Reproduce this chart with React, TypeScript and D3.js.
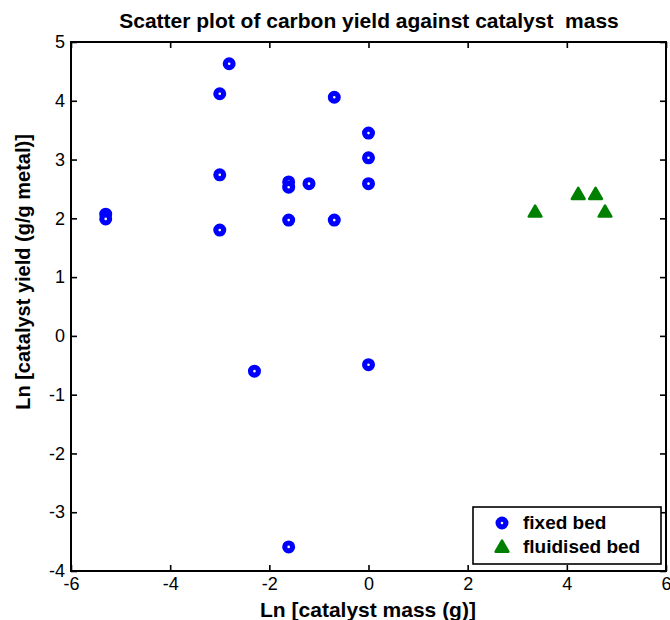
import React, { useRef, useEffect } from 'react';
import * as d3 from 'd3';

// fixed bed points (ln catalyst mass, ln yield)
const fixedX = [-2.81, -3.0, -0.69, 0, 0, 0, -3.0, -1.61, -1.61, -1.2, -5.3, -5.3, -1.61, -0.69, -3.0, -2.3, 0, -1.61];
const fixedY = [4.63, 4.12, 4.06, 3.45, 3.03, 2.59, 2.74, 2.62, 2.53, 2.59, 2.07, 1.99, 1.97, 1.97, 1.8, -0.6, -0.49, -3.59];

// fluidised bed points
const fluidX = [3.36, 4.23, 4.58, 4.77];
const fluidY = [2.11, 2.41, 2.41, 2.11];

const xTicks = [-6, -4, -2, 0, 2, 4, 6];
const yTicks = [-4, -3, -2, -1, 0, 1, 2, 3, 4, 5];

const legendLabels = ['fixed bed', 'fluidised bed'];

export default function App() {
    const svgRef = useRef(null);
    const width = 670;
    const height = 620;
    const margin = { top: 42, right: 4, bottom: 49, left: 71 };

    useEffect(() => {
        const svg = d3.select(svgRef.current);
        svg.selectAll('*').remove();

        const font = '"Liberation Sans", Arial, sans-serif';
        const x = d3.scaleLinear().domain([-6, 6]).range([margin.left, width - margin.right]);
        const y = d3.scaleLinear().domain([-4, 5]).range([height - margin.bottom, margin.top]);

        svg.append('rect').attr('width', width).attr('height', height).attr('fill', '#fff');

        // axes, ticks inward on all four sides
        const styleAxis = (g, showLabels) => {
            g.select('.domain').remove();
            g.selectAll('line').attr('stroke', '#000').attr('stroke-width', 1.6);
            g.selectAll('text')
                .attr('font-family', font)
                .attr('font-size', 18)
                .attr('fill', '#000')
                .style('display', showLabels ? null : 'none');
        };

        const plain = d => String(d); // hyphen minus like the original

        svg.append('g')
            .attr('transform', `translate(0,${y(-4)})`)
            .call(d3.axisBottom(x).tickValues(xTicks).tickSize(-6).tickPadding(6).tickFormat(plain))
            .call(g => styleAxis(g, true))
            .call(g => g.selectAll('text').filter(d => d === 6).attr('text-anchor', 'end').attr('dx', 5));
        svg.append('g')
            .attr('transform', `translate(0,${y(5)})`)
            .call(d3.axisTop(x).tickValues(xTicks).tickSize(-6))
            .call(g => styleAxis(g, false));
        svg.append('g')
            .attr('transform', `translate(${x(-6)},0)`)
            .call(d3.axisLeft(y).tickValues(yTicks).tickSize(-6).tickPadding(6).tickFormat(plain))
            .call(g => styleAxis(g, true));
        svg.append('g')
            .attr('transform', `translate(${x(6)},0)`)
            .call(d3.axisRight(y).tickValues(yTicks).tickSize(-6))
            .call(g => styleAxis(g, false));

        svg.append('rect')
            .attr('x', x(-6))
            .attr('y', y(5))
            .attr('width', x(6) - x(-6))
            .attr('height', y(-4) - y(5))
            .attr('fill', 'none')
            .attr('stroke', '#000')
            .attr('stroke-width', 2);

        // markers
        const triangle = d3.symbol().type(d3.symbolTriangle).size(70);

        svg.append('g')
            .selectAll('circle')
            .data(fixedX.map((d, i) => [d, fixedY[i]]))
            .enter()
            .append('circle')
            .attr('cx', d => x(d[0]))
            .attr('cy', d => y(d[1]))
            .attr('r', 3.9)
            .attr('fill', '#fff')
            .attr('stroke', '#0000ff')
            .attr('stroke-width', 5.2);

        svg.append('g')
            .selectAll('path')
            .data(fluidX.map((d, i) => [d, fluidY[i]]))
            .enter()
            .append('path')
            .attr('d', triangle)
            .attr('transform', d => `translate(${x(d[0])},${y(d[1]) + 1})`)
            .attr('fill', '#008000')
            .attr('stroke', '#008000')
            .attr('stroke-width', 2.5)
            .attr('stroke-linejoin', 'round');

        // legend
        const lg = svg.append('g').attr('transform', 'translate(473,507)');
        lg.append('rect')
            .attr('width', 188)
            .attr('height', 57)
            .attr('fill', '#fff')
            .attr('stroke', '#000')
            .attr('stroke-width', 1.6);
        lg.append('circle')
            .attr('cx', 29).attr('cy', 16).attr('r', 3.9)
            .attr('fill', '#fff').attr('stroke', '#0000ff').attr('stroke-width', 5.2);
        lg.append('path')
            .attr('d', triangle)
            .attr('transform', 'translate(29,41)')
            .attr('fill', '#008000').attr('stroke', '#008000')
            .attr('stroke-width', 2.5).attr('stroke-linejoin', 'round');
        lg.selectAll('text.lab')
            .data(legendLabels)
            .enter()
            .append('text')
            .attr('x', 50)
            .attr('y', (_, i) => 22 + i * 24)
            .attr('font-family', font)
            .attr('font-weight', 'bold')
            .attr('font-size', 19)
            .text(d => d);

        // titles
        svg.append('text')
            .attr('x', 369)
            .attr('y', 28)
            .attr('text-anchor', 'middle')
            .attr('font-family', font)
            .attr('font-weight', 'bold')
            .attr('font-size', 21)
            .style('white-space', 'pre')
            .text('Scatter plot of carbon yield against catalyst  mass');

        svg.append('text')
            .attr('x', 368)
            .attr('y', 617)
            .attr('text-anchor', 'middle')
            .attr('font-family', font)
            .attr('font-weight', 'bold')
            .attr('font-size', 21)
            .text('Ln [catalyst mass (g)]');

        svg.append('text')
            .attr('transform', 'translate(30,272) rotate(-90)')
            .attr('text-anchor', 'middle')
            .attr('font-family', font)
            .attr('font-weight', 'bold')
            .attr('font-size', 20)
            .text('Ln [catalyst yield (g/g metal)]');
    }, []);

    return (
        <svg
            ref={svgRef}
            width={width}
            height={height}
            style={{ position: 'absolute', left: 0, top: 0, display: 'block' }}
        ></svg>
    );
}
